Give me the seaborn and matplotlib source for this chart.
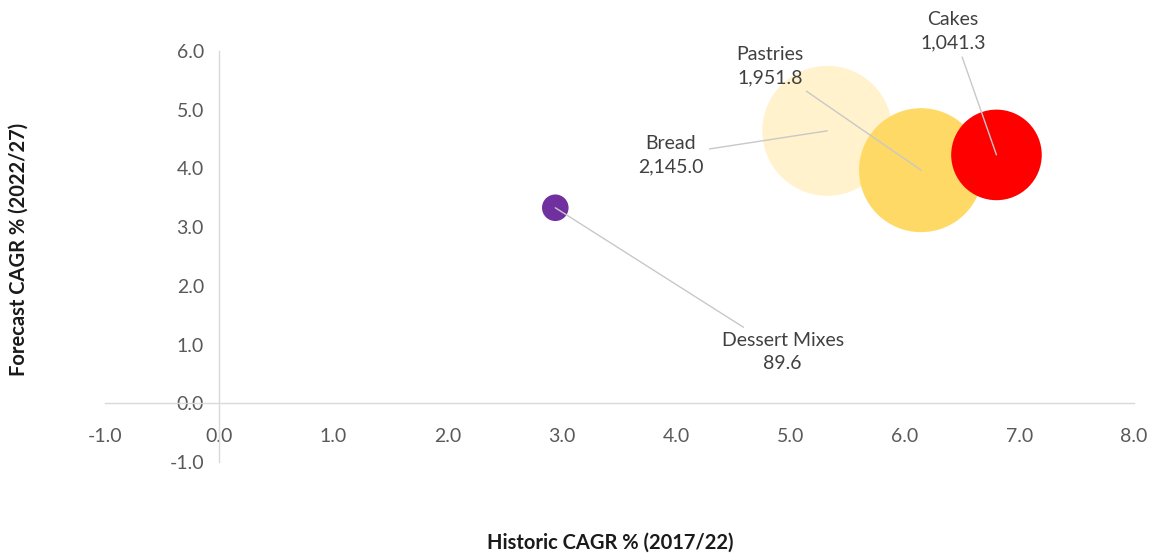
import matplotlib
matplotlib.use("Agg")
import matplotlib.pyplot as plt
import seaborn as sns
import pandas as pd

# dados do gráfico
categorias = ["Dessert Mixes", "Bread", "Pastries", "Cakes"]
historic_cagr = [2.94, 5.32, 6.14, 6.80]
forecast_cagr = [3.33, 4.64, 3.97, 4.23]
valores = [89.6, 2145.0, 1951.8, 1041.3]
xticks = [-1, 0, 1, 2, 3, 4, 5, 6, 7, 8]
yticks = [-1, 0, 1, 2, 3, 4, 5, 6]

cores = {"Dessert Mixes": "#7030A0", "Bread": "#FFF2CC",
         "Pastries": "#FFD966", "Cakes": "#FF0000"}
# posição dos rótulos (layout)
pos_rotulos = {"Dessert Mixes": (4.93, 0.87), "Bread": (3.95, 4.23),
               "Pastries": (4.82, 5.74), "Cakes": (6.42, 6.34)}

df = pd.DataFrame({"cat": categorias, "hist": historic_cagr,
                   "fore": forecast_cagr, "val": valores})

sns.set_style("white")
plt.rcParams["font.family"] = ["Lato", "DejaVu Sans"]

fig = plt.figure(figsize=(11.51, 5.54), dpi=100)
ax = fig.add_axes([0.0912, 0.166, 0.8937, 0.742])

smax = 8760
sns.scatterplot(data=df, x="hist", y="fore", hue="cat", palette=cores,
                size="val", sizes=(0, smax), size_norm=(0, max(valores)),
                linewidth=0, legend=False, ax=ax, zorder=2)

ax.set_xlim(-1, 8)
ax.set_ylim(-1, 6)
ax.set_xticks(xticks)
ax.set_yticks(yticks)
ax.set_xticklabels([f"{t:.1f}" for t in xticks])
ax.set_yticklabels([f"{t:.1f}" for t in yticks])

for s in ["top", "right"]:
    ax.spines[s].set_visible(False)
for s in ["left", "bottom"]:
    ax.spines[s].set_position(("data", 0))
    ax.spines[s].set_color("#d9d9d9")
    ax.spines[s].set_linewidth(1)
    ax.spines[s].set_zorder(1)

ax.tick_params(axis="x", length=0, pad=18, labelsize=14, labelcolor="#595959")
ax.tick_params(axis="y", length=0, pad=11, labelsize=14, labelcolor="#595959")

for cat, x, y, v in zip(categorias, historic_cagr, forecast_cagr, valores):
    tx, ty = pos_rotulos[cat]
    ax.annotate(f"{cat}\n{v:,.1f}", xy=(x, y), xytext=(tx, ty),
                ha="center", va="center", fontsize=14, color="#404040",
                linespacing=1.45,
                arrowprops=dict(arrowstyle="-", color="#c8c8c8", lw=1,
                                shrinkA=2, shrinkB=0),
                zorder=3, annotation_clip=False)

ax.set_xlabel("")
ax.set_ylabel("")
fig.text(0.53, 0.02, "Historic CAGR % (2017/22)", ha="center", va="center",
         fontsize=14.5, fontweight="bold", color="#1a1a1a")
fig.text(0.016, 0.55, "Forecast CAGR % (2022/27)", ha="center", va="center",
         rotation=90, fontsize=14.5, fontweight="bold", color="#1a1a1a")

fig.savefig("out.png", dpi=100)
